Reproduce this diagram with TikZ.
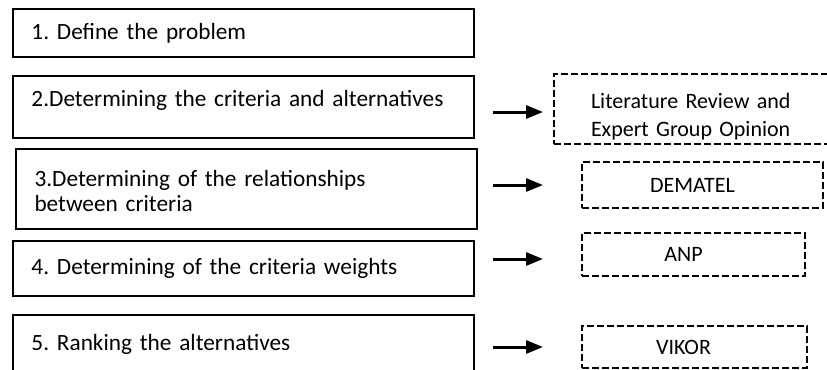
\documentclass[tikz,border=0pt]{standalone}
\usepackage{fontspec}
\setmainfont{Carlito}
\frenchspacing
\hyphenpenalty=10000
\usetikzlibrary{arrows.meta}
\tikzset{
  stepbox/.style={draw, line width=1pt, anchor=north west, text width=212pt, inner xsep=9.25pt, align=left, font=\fontsize{11.65}{12.2}\selectfont},
  methodbox/.style={draw, dash pattern=on 3.5pt off 1.5pt, line width=1pt, anchor=north west, font=\fontsize{11}{14}\selectfont},
  flow/.style={line width=1.5pt, -{Triangle[length=8.5pt, width=6.5pt]}},
}

\begin{document}
\begin{tikzpicture}[x=0.5pt, y=-0.5pt]
\useasboundingbox (0,0) rectangle (827,370);
\clip (0,0) rectangle (827,370);
% steps
\node [stepbox, minimum height=24pt] (s1) at (12,8) {1. Define the problem};
\node [stepbox, minimum height=31pt, text depth=9pt] (s2) at (12,75) {2.Determining the criteria and alternatives};
\node [stepbox, minimum height=40pt] (s3) at (15,148) {\rule{0pt}{10pt}3.Determining of the relationships\\between criteria};
\node [stepbox, minimum height=27.5pt] (s4) at (12,240) {4. Determining of the criteria weights};
\node [stepbox, minimum height=29pt] (s5) at (12,314) {5. Ranking the alternatives};
% methods
\node [methodbox, text width=106.5pt, inner xsep=18.5pt, inner ysep=0pt, align=left, minimum height=35pt] (lit) at (553,73) {\rule{0pt}{15.5pt}Literature Review and\\Expert Group Opinion};
\node [methodbox, minimum width=120.5pt, minimum height=23pt] (dematel) at (581,161) {DEMATEL\kern10pt};
\node [methodbox, minimum width=111.5pt, minimum height=21.5pt] (anp) at (581,232) {ANP\kern10pt};
\node [methodbox, minimum width=112.5pt, minimum height=21pt] (vikor) at (581,325) {VIKOR\kern11pt};
% arrows
\foreach \n/\y in {2/112, 3/185, 4/259, 5/347}{
  \coordinate (from\n) at (493,\y);
  \coordinate (to\n) at (543,\y);
  \draw [flow] (from\n) -- (to\n);
}
\end{tikzpicture}
\end{document}
